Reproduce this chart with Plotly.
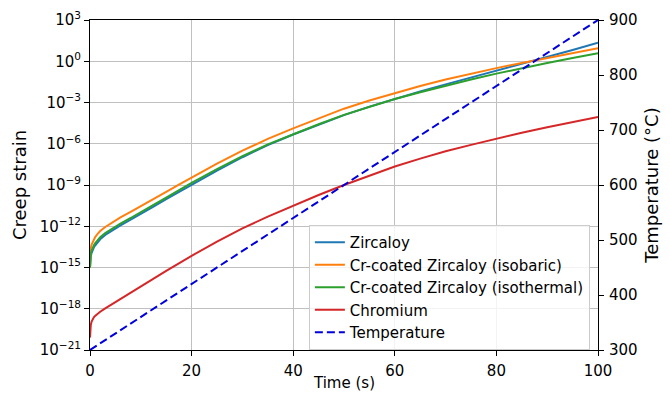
import plotly.graph_objects as go

# ---- data ----
time_s = [0, 0.05, 0.15, 0.3, 0.5, 0.75, 1, 1.5, 2, 3, 4, 5, 6, 8, 10, 12.5, 15, 17.5, 20,
          25, 30, 35, 40, 45, 50, 55, 60, 65, 70, 75, 80, 85, 90, 95, 100]
log_zircaloy = [-15, -14.6, -14.2, -13.95, -13.72, -13.55, -13.4, -13.15, -12.95, -12.63, -12.38,
                -12.15, -11.93, -11.52, -11.12, -10.57, -10.03, -9.5, -8.97,
                -7.95, -6.98, -6.1, -5.33, -4.6, -3.92, -3.3, -2.74, -2.2, -1.68, -1.18, -0.69,
                -0.2, 0.29, 0.82, 1.35]
log_cr_isobaric = [-15, -14.0, -13.6, -13.35, -13.15, -12.95, -12.8, -12.55, -12.35, -12.05, -11.8,
                   -11.57, -11.35, -10.95, -10.55, -10.02, -9.5, -8.97, -8.45,
                   -7.45, -6.5, -5.65, -4.88, -4.15, -3.45, -2.85, -2.3, -1.8, -1.33, -0.9, -0.5,
                   -0.12, 0.25, 0.6, 0.94]
log_cr_isothermal = [-15, -14.4, -14.0, -13.78, -13.58, -13.4, -13.25, -13.0, -12.8, -12.5, -12.25,
                     -12.02, -11.8, -11.4, -11.0, -10.45, -9.92, -9.38, -8.85,
                     -7.85, -6.9, -6.05, -5.3, -4.58, -3.9, -3.3, -2.75, -2.25, -1.78, -1.33, -0.9,
                     -0.5, -0.12, 0.24, 0.58]
log_chromium = [-20.1, -19.6, -19.2, -18.95, -18.78, -18.63, -18.52, -18.35, -18.22, -17.97, -17.74,
                -17.52, -17.3, -16.85, -16.4, -15.82, -15.25, -14.7, -14.15,
                -13.12, -12.15, -11.3, -10.5, -9.73, -9.0, -8.3, -7.65, -7.08, -6.55, -6.08, -5.63,
                -5.2, -4.8, -4.42, -4.05]

time_temp = [0, 100]
temperature = [300, 900]

strain_ticks = [-21, -18, -15, -12, -9, -6, -3, 0, 3]
temp_ticks = [300, 400, 500, 600, 700, 800, 900]
time_ticks = [0, 20, 40, 60, 80, 100]

FONT = "DejaVu Sans"
FS = 15
fig = go.Figure()

def strain(vals):
    return [10 ** v for v in vals]

series = [
    ("Zircaloy", log_zircaloy, "#1f77b4"),
    ("Cr-coated Zircaloy (isobaric)", log_cr_isobaric, "#ff7f0e"),
    ("Cr-coated Zircaloy (isothermal)", log_cr_isothermal, "#2ca02c"),
    ("Chromium", log_chromium, "#d62728"),
]
for name, v, c in series:
    fig.add_trace(go.Scatter(x=time_s, y=strain(v), name=name, mode="lines",
                             line=dict(color=c, width=2), yaxis="y"))

fig.add_trace(go.Scatter(x=time_temp, y=temperature, name="Temperature", mode="lines",
                         line=dict(color="#0000dd", width=2, dash="8px,4px"), yaxis="y2"))

def sup(e):
    s = str(e).replace("-", "\u2212")
    return f"10<sup>{s}</sup>"

fig.update_layout(
    width=670, height=395,
    margin=dict(l=90, r=72, t=20, b=45),
    paper_bgcolor="white", plot_bgcolor="white",
    font=dict(family=FONT, size=FS, color="black"),
    showlegend=True,
    legend=dict(x=0.984, y=0.0, xanchor="right", yanchor="bottom",
                bgcolor="rgba(255,255,255,0.8)", bordercolor="#cccccc", borderwidth=1,
                font=dict(family=FONT, size=FS), itemwidth=30),
    xaxis=dict(range=[0, 100], tickvals=time_ticks, ticks="outside", ticklen=5, tickcolor="black",
               showline=True, linecolor="black", linewidth=1, mirror=True,
               showgrid=True, gridcolor="#c0c0c0", gridwidth=1, zeroline=False,
               ticklabelstandoff=2, automargin=False),
    yaxis=dict(type="log", range=[-21, 3], tickvals=[10 ** e for e in strain_ticks],
               ticktext=[sup(e) for e in strain_ticks], ticks="outside", ticklen=5, tickcolor="black",
               showline=True, linecolor="black", linewidth=1,
               showgrid=True, gridcolor="#c0c0c0", gridwidth=1, zeroline=False,
               automargin=False,
               title=dict(text="Creep strain", standoff=8)),
    yaxis2=dict(range=[300, 900], tickvals=temp_ticks, overlaying="y", side="right",
                ticks="outside", ticklen=5, tickcolor="black",
                showline=True, linecolor="black", linewidth=1, showgrid=False, zeroline=False,
                ticklabelstandoff=2, automargin=False,
                title=dict(text="Temperature (°C)", standoff=8)),
    annotations=[dict(text="Time (s)", xref="paper", yref="paper", x=0.5, y=-0.1,
                      xanchor="center", yanchor="middle", showarrow=False,
                      font=dict(family=FONT, size=FS))],
)

fig.write_html("out.html")
